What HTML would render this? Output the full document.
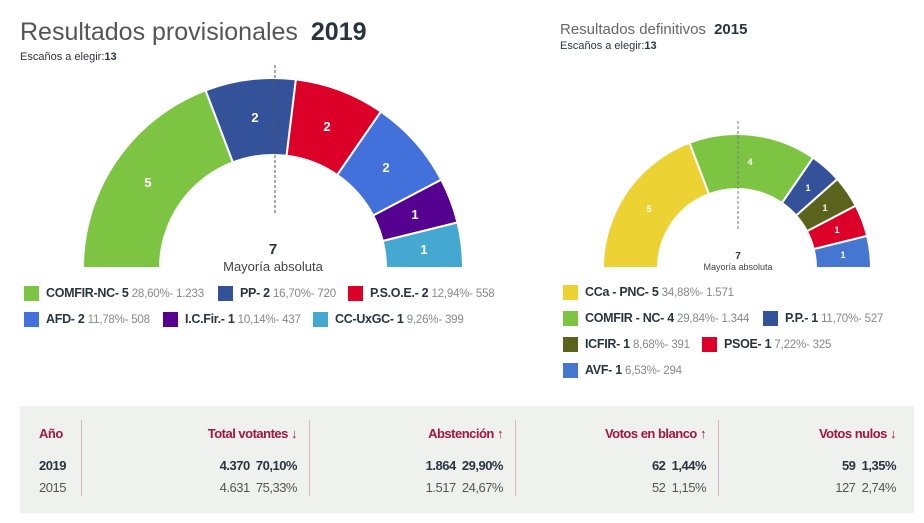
<!DOCTYPE html><html><head><meta charset="utf-8"><style>
body{margin:0;width:924px;height:523px;background:#fff;font-family:"Liberation Sans",sans-serif;position:relative;overflow:hidden;color:#333}
.a{position:absolute;white-space:nowrap}
.sq{position:absolute;width:15px;height:15px}
.lg{position:absolute;white-space:nowrap;font-size:12.5px;font-weight:bold;color:#2a3440;letter-spacing:-0.3px}
.lg span{font-weight:normal;color:#888;font-size:11.5px;letter-spacing:-0.2px}
.h{position:absolute;font-size:13px;font-weight:bold;color:#a0173f;letter-spacing:-0.5px;text-align:right;white-space:nowrap}
.c{position:absolute;font-size:13px;text-align:right;white-space:nowrap;letter-spacing:-0.5px}
.sep{position:absolute;top:420px;width:1px;height:76px;background:#d9b8c2}
</style></head><body>
<div class="a" style="left:20px;top:18px;font-size:25px;color:#555">Resultados provisionales <b style="color:#2a3440;margin-left:6px">2019</b></div>
<div class="a" style="left:20px;top:51px;font-size:11px;color:#2a3440">Escaños a elegir:<b>13</b></div>
<div class="a" style="left:560px;top:21px;font-size:15px;color:#666">Resultados definitivos <b style="color:#2a3440;margin-left:4px">2015</b></div>
<div class="a" style="left:560px;top:40px;font-size:11px;color:#2a3440">Escaños a elegir:<b>13</b></div>
<svg width="924" height="523" style="position:absolute;left:0;top:0" font-family="Liberation Sans, sans-serif">
<g stroke="#fff" stroke-width="2">
<path d="M83,268 A190,190 0 0 1 205.6,90.35 L232.9,162.3 A113,113 0 0 0 160,268Z" fill="#7dc443"/>
<path d="M205.6,90.35 A190,190 0 0 1 295.9,79.4 L286.6,155.8 A113,113 0 0 0 232.9,162.3Z" fill="#34529a"/>
<path d="M295.9,79.4 A190,190 0 0 1 380.9,111.6 L337.2,175 A113,113 0 0 0 286.6,155.8Z" fill="#dc0028"/>
<path d="M380.9,111.6 A190,190 0 0 1 441.2,179.7 L373.1,215.5 A113,113 0 0 0 337.2,175Z" fill="#4371db"/>
<path d="M441.2,179.7 A190,190 0 0 1 457.5,222.5 L382.7,241 A113,113 0 0 0 373.1,215.5Z" fill="#55008f"/>
<path d="M457.5,222.5 A190,190 0 0 1 463,268 L386,268 A113,113 0 0 0 382.7,241Z" fill="#44a8d0"/>
<path d="M603,268 A134,134 0 0 1 689.5,142.7 L709,194.1 A79,79 0 0 0 658,268Z" fill="#ecd232"/>
<path d="M689.5,142.7 A134,134 0 0 1 813.1,157.7 L781.9,203 A79,79 0 0 0 709,194.1Z" fill="#7dc443"/>
<path d="M813.1,157.7 A134,134 0 0 1 837.3,179.1 L796.1,215.6 A79,79 0 0 0 781.9,203Z" fill="#34529a"/>
<path d="M837.3,179.1 A134,134 0 0 1 855.7,205.7 L807,231.3 A79,79 0 0 0 796.1,215.6Z" fill="#5a621c"/>
<path d="M855.7,205.7 A134,134 0 0 1 867.1,235.9 L813.7,249.1 A79,79 0 0 0 807,231.3Z" fill="#dc0028"/>
<path d="M867.1,235.9 A134,134 0 0 1 871,268 L816,268 A79,79 0 0 0 813.7,249.1Z" fill="#4577d0"/>
</g>
<line x1="275" y1="65" x2="275" y2="213" stroke="#555" stroke-dasharray="3,2"/>
<line x1="738" y1="121" x2="738" y2="230" stroke="#777" stroke-dasharray="3,2"/>
<g fill="#fff" font-weight="bold" font-size="13" text-anchor="middle">
<text x="148" y="187">5</text><text x="255" y="122">2</text><text x="327" y="131">2</text><text x="386" y="172">2</text><text x="415" y="219">1</text><text x="424" y="254">1</text>
</g>
<g fill="#fff" font-weight="bold" font-size="9" text-anchor="middle">
<text x="649" y="212">5</text><text x="750" y="165">4</text><text x="808" y="191">1</text><text x="825" y="211">1</text><text x="837" y="233">1</text><text x="843" y="258">1</text>
</g>
<text x="273" y="254" text-anchor="middle" font-size="15" font-weight="bold" fill="#2a3440">7</text>
<text x="273" y="271" text-anchor="middle" font-size="13" fill="#444">Mayoría absoluta</text>
<text x="738" y="259" text-anchor="middle" font-size="10" font-weight="bold" fill="#2a3440">7</text>
<text x="738" y="270" text-anchor="middle" font-size="9" fill="#444">Mayoría absoluta</text>
</svg>
<div class="sq" style="left:24px;top:286px;background:#7dc443"></div><div class="lg" style="left:46px;top:286px">COMFIR-NC- 5 <span>28,60%- 1.233</span></div>
<div class="sq" style="left:218px;top:286px;background:#34529a"></div><div class="lg" style="left:240px;top:286px">PP- 2 <span>16,70%- 720</span></div>
<div class="sq" style="left:348px;top:286px;background:#dc0028"></div><div class="lg" style="left:370px;top:286px">P.S.O.E.- 2 <span>12,94%- 558</span></div>
<div class="sq" style="left:24px;top:312px;background:#4371db"></div><div class="lg" style="left:46px;top:312px">AFD- 2 <span>11,78%- 508</span></div>
<div class="sq" style="left:163px;top:312px;background:#55008f"></div><div class="lg" style="left:185px;top:312px">I.C.Fir.- 1 <span>10,14%- 437</span></div>
<div class="sq" style="left:313px;top:312px;background:#44a8d0"></div><div class="lg" style="left:335px;top:312px">CC-UxGC- 1 <span>9,26%- 399</span></div>
<div class="sq" style="left:563px;top:285px;background:#ecd232"></div><div class="lg" style="left:585px;top:285px">CCa - PNC- 5 <span>34,88%- 1.571</span></div>
<div class="sq" style="left:563px;top:311px;background:#7dc443"></div><div class="lg" style="left:585px;top:311px">COMFIR - NC- 4 <span>29,84%- 1.344</span></div>
<div class="sq" style="left:763px;top:311px;background:#34529a"></div><div class="lg" style="left:785px;top:311px">P.P.- 1 <span>11,70%- 527</span></div>
<div class="sq" style="left:563px;top:337px;background:#5a621c"></div><div class="lg" style="left:585px;top:337px">ICFIR- 1 <span>8,68%- 391</span></div>
<div class="sq" style="left:702px;top:337px;background:#dc0028"></div><div class="lg" style="left:724px;top:337px">PSOE- 1 <span>7,22%- 325</span></div>
<div class="sq" style="left:563px;top:363px;background:#4577d0"></div><div class="lg" style="left:585px;top:363px">AVF- 1 <span>6,53%- 294</span></div>
<div class="a" style="left:20px;top:406px;width:894px;height:107px;background:#eef1ee"></div>
<div class="sep" style="left:81px"></div><div class="sep" style="left:309px"></div><div class="sep" style="left:515px"></div><div class="sep" style="left:718px"></div>
<div class="h" style="left:39px;top:426px;text-align:left">Año</div>
<div class="h" style="right:627px;top:426px">Total votantes ↓</div>
<div class="h" style="right:421px;top:426px">Abstención ↑</div>
<div class="h" style="right:218px;top:426px">Votos en blanco ↑</div>
<div class="h" style="right:28px;top:426px">Votos nulos ↓</div>
<div class="c" style="left:39px;top:458px;text-align:left;font-weight:bold;color:#2a3440">2019</div>
<div class="c" style="right:627px;top:458px;font-weight:bold;color:#2a3440">4.370&nbsp; 70,10%</div>
<div class="c" style="right:421px;top:458px;font-weight:bold;color:#2a3440">1.864&nbsp; 29,90%</div>
<div class="c" style="right:218px;top:458px;font-weight:bold;color:#2a3440">62&nbsp; 1,44%</div>
<div class="c" style="right:28px;top:458px;font-weight:bold;color:#2a3440">59&nbsp; 1,35%</div>
<div class="c" style="left:39px;top:480px;text-align:left;color:#555">2015</div>
<div class="c" style="right:627px;top:480px;color:#555">4.631&nbsp; 75,33%</div>
<div class="c" style="right:421px;top:480px;color:#555">1.517&nbsp; 24,67%</div>
<div class="c" style="right:218px;top:480px;color:#555">52&nbsp; 1,15%</div>
<div class="c" style="right:28px;top:480px;color:#555">127&nbsp; 2,74%</div>
</body></html>
